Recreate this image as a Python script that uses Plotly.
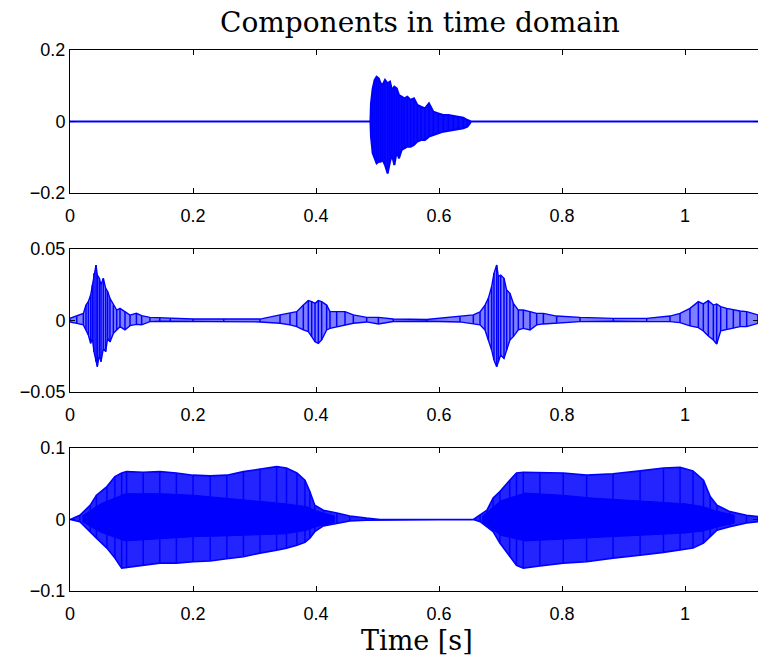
import plotly.graph_objects as go

# ---- Component 1: single decaying burst (upper / lower envelope per time point)
C1_T = [0.0, 0.4885, 0.4894, 0.4922, 0.4954, 0.4986, 0.5019, 0.5052, 0.5084, 0.5122, 0.5165,
        0.5203, 0.5236, 0.5274, 0.5312, 0.5350, 0.5393, 0.5436, 0.5485, 0.5539, 0.5593,
        0.5648, 0.5707, 0.5772, 0.5837, 0.5908, 0.5989, 0.6070, 0.6152, 0.6233, 0.6314,
        0.6396, 0.6461, 0.6504, 0.6520, 1.1187]
C1_HI = [0.0, 0.0, 0.0508, 0.0928, 0.1161, 0.1254, 0.1207, 0.1068, 0.1021, 0.1161, 0.1068,
         0.1114, 0.0881, 0.0974, 0.0928, 0.0741, 0.0695, 0.0648, 0.0695, 0.0601, 0.0648,
         0.0462, 0.0415, 0.0368, 0.0508, 0.0275, 0.0228, 0.0182, 0.0182, 0.0163, 0.0135,
         0.0107, 0.0042, 0.001, 0.0, 0.0]
C1_LO = [0.0, 0.0, -0.0424, -0.0890, -0.1030, -0.1170, -0.1124, -0.1124, -0.1077, -0.1217, -0.1450,
         -0.1124, -0.0937, -0.1217, -0.0844, -0.1030, -0.0797, -0.0751, -0.0704, -0.0704, -0.0657,
         -0.0564, -0.0517, -0.0517, -0.0424, -0.0378, -0.0331, -0.0284, -0.0266, -0.0238, -0.0210,
         -0.0191, -0.0145, -0.0051, 0.0, 0.0]

# ---- Component 2: four transient bursts
C2_T = [0.0, 0.011, 0.0217, 0.026, 0.0298, 0.0336, 0.0363, 0.039, 0.0423, 0.0444, 0.0477,
        0.0504, 0.0542, 0.058, 0.0612, 0.065, 0.0705, 0.0759, 0.0813, 0.0894, 0.0976, 0.108,
        0.1165, 0.130, 0.146, 0.163, 0.200, 0.250, 0.309, 0.3415, 0.3577, 0.3686, 0.3794,
        0.3875, 0.3930, 0.3984, 0.4038, 0.4092, 0.4173, 0.4228, 0.4336, 0.4472, 0.4607,
        0.4824, 0.5014, 0.5257, 0.5799, 0.6341, 0.6558, 0.6667, 0.6748, 0.6802, 0.6856,
        0.6894, 0.6938, 0.6965, 0.7003, 0.7057, 0.7100, 0.7154, 0.7209, 0.7290, 0.7371,
        0.7480, 0.7588, 0.7697, 0.7913, 0.8293, 0.8835, 0.9377, 0.9756, 0.9919, 1.0081,
        1.0217, 1.0298, 1.0379, 1.0461, 1.0515, 1.0580, 1.0678, 1.0786, 1.0894, 1.1003, 1.1187]
C2_HI = [0.0015, 0.003, 0.0050, 0.0108, 0.0132, 0.0178, 0.0248, 0.0330, 0.0388, 0.0318, 0.0295,
         0.0248, 0.0295, 0.0225, 0.0202, 0.0155, 0.0108, 0.0073, 0.0085, 0.0062, 0.0038, 0.0050,
         0.0034, 0.0022, 0.0020, 0.0015, 0.0010, 0.0010, 0.0010, 0.0039, 0.0050, 0.0062, 0.0108,
         0.0139, 0.0132, 0.0120, 0.0139, 0.0132, 0.0108, 0.0062, 0.0062, 0.0062, 0.0039,
         0.0022, 0.0022, 0.0010, 0.0007, 0.0027, 0.0039, 0.0060, 0.0108, 0.0155, 0.0237,
         0.0330, 0.0388, 0.0307, 0.0318, 0.0295, 0.0213, 0.0190, 0.0120, 0.0073, 0.0073,
         0.0062, 0.0050, 0.0050, 0.0031, 0.0022, 0.0015, 0.0015, 0.0031, 0.0050, 0.0085,
         0.0132, 0.0116, 0.0139, 0.0108, 0.0116, 0.0097, 0.0085, 0.0073, 0.0066, 0.0062, 0.0039]
C2_LO = [-0.001, -0.002, -0.0031, -0.0066, -0.0101, -0.0160, -0.0124, -0.0218, -0.0288, -0.0323, -0.0241,
         -0.0288, -0.0195, -0.0218, -0.0124, -0.0150, -0.0090, -0.0066, -0.0043, -0.0066, -0.0036, -0.0027,
         -0.0030, -0.0008, -0.0005, -0.0003, -0.0007, -0.0007, -0.0010, -0.0019, -0.0031, -0.0043, -0.0066,
         -0.0078, -0.0113, -0.0148, -0.0160, -0.0136, -0.0066, -0.0055, -0.0043, -0.0031, -0.0019,
         -0.0010, -0.0024, -0.0007, -0.0005, -0.0010, -0.0024, -0.0030, -0.0066, -0.0136, -0.0206,
         -0.0276, -0.0323, -0.0288, -0.0241, -0.0265, -0.0206, -0.0136, -0.0113, -0.0066, -0.0055,
         -0.0066, -0.0031, -0.0024, -0.0015, -0.0008, -0.0005, -0.0008, -0.0008, -0.0015, -0.0038,
         -0.0050, -0.0073, -0.0108, -0.0136, -0.0164, -0.0073, -0.0066, -0.0055, -0.0043, -0.0043, -0.0020]

# ---- Component 3: two sustained tonal segments (outer envelope)
C3_T = [0.0, 0.016, 0.033, 0.043, 0.060, 0.073, 0.084, 0.092, 0.119, 0.146, 0.173, 0.200,
        0.228, 0.255, 0.282, 0.309, 0.336, 0.352, 0.369, 0.382, 0.390, 0.398, 0.412, 0.434,
        0.455, 0.482, 0.504, 0.656, 0.667, 0.678, 0.688, 0.699, 0.715, 0.726, 0.737, 0.764,
        0.802, 0.840, 0.883, 0.927, 0.965, 0.992, 1.013, 1.030, 1.041, 1.052, 1.073, 1.100, 1.1187]
C3_HI = [0.0, 0.006, 0.020, 0.034, 0.046, 0.060, 0.065, 0.067, 0.066, 0.067, 0.065, 0.062,
         0.061, 0.062, 0.067, 0.071, 0.074, 0.072, 0.065, 0.055, 0.039, 0.020, 0.013, 0.009,
         0.005, 0.002, 0.0, 0.0, 0.006, 0.013, 0.030, 0.039, 0.055, 0.065, 0.066, 0.066,
         0.065, 0.062, 0.064, 0.068, 0.072, 0.073, 0.068, 0.055, 0.032, 0.020, 0.011, 0.006, 0.004]
C3_LO = [0.0, -0.003, -0.017, -0.026, -0.040, -0.054, -0.068, -0.068, -0.064, -0.061, -0.061, -0.059,
         -0.058, -0.055, -0.052, -0.047, -0.043, -0.040, -0.036, -0.032, -0.026, -0.017, -0.009, -0.005,
         -0.002, -0.001, 0.0, 0.0, -0.003, -0.010, -0.017, -0.033, -0.052, -0.064, -0.068, -0.065,
         -0.061, -0.059, -0.054, -0.050, -0.046, -0.043, -0.040, -0.033, -0.024, -0.015, -0.010, -0.005, -0.003]

# dense core of component 3, first and second segment
C3_CORE1_T = [0.02, 0.05, 0.09, 0.15, 0.20, 0.25, 0.30, 0.35, 0.385, 0.40, 0.43]
C3_CORE1_HI = [0.005, 0.022, 0.036, 0.036, 0.034, 0.030, 0.026, 0.022, 0.018, 0.012, 0.005]
C3_CORE1_LO = [-0.003, -0.018, -0.030, -0.027, -0.024, -0.023, -0.022, -0.020, -0.015, -0.010, -0.004]
C3_CORE2_T = [0.67, 0.70, 0.74, 0.80, 0.85, 0.90, 0.95, 1.00, 1.03, 1.05, 1.08]
C3_CORE2_HI = [0.004, 0.026, 0.037, 0.034, 0.030, 0.027, 0.024, 0.022, 0.018, 0.012, 0.006]
C3_CORE2_LO = [-0.003, -0.022, -0.030, -0.027, -0.025, -0.024, -0.021, -0.019, -0.016, -0.011, -0.005]

Y_TICKS = [
    ([-0.2, 0, 0.2], ["\u22120.2", "0", "0.2"], [-0.2, 0.2]),
    ([-0.05, 0, 0.05], ["\u22120.05", "0", "0.05"], [-0.05, 0.05]),
    ([-0.1, 0, 0.1], ["\u22120.1", "0", "0.1"], [-0.1, 0.1]),
]
X_TICKS = [0, 0.2, 0.4, 0.6, 0.8, 1]
X_TICK_TEXT = ["0", "0.2", "0.4", "0.6", "0.8", "1"]
X_RANGE = [0, 1.1187]

BLUE = "#0000ff"
W, H = 758, 657
PANEL_PX = [(50, 193), (249, 392), (448, 591)]


def band(t, hi, lo):
    return list(t) + list(t)[::-1], list(hi) + list(lo)[::-1]


def spikes(t, hi, lo):
    xs, ys = [], []
    for ti, h, l in zip(t, hi, lo):
        xs += [ti, ti, None]
        ys += [h, l, None]
    return xs, ys


fig = go.Figure()

components = [
    (C1_T, C1_HI, C1_LO, "rgba(0,0,255,0.95)", 2.0),
    (C2_T, C2_HI, C2_LO, "rgba(0,0,255,0.50)", 1.4),
    (C3_T, C3_HI, C3_LO, "rgba(0,0,255,0.86)", 1.6),
]

for i, (t, hi, lo, fc, lw) in enumerate(components, start=1):
    xa = "x" if i == 1 else f"x{i}"
    ya = "y" if i == 1 else f"y{i}"
    bx, by = band(t, hi, lo)
    fig.add_trace(go.Scatter(x=bx, y=by, mode="lines", fill="toself", fillcolor=fc,
                             line=dict(color=BLUE, width=lw), xaxis=xa, yaxis=ya,
                             hoverinfo="skip", showlegend=False))
    sx_, sy_ = spikes(t, hi, lo)
    fig.add_trace(go.Scatter(x=sx_, y=sy_, mode="lines", line=dict(color=BLUE, width=1.5),
                             connectgaps=False, xaxis=xa, yaxis=ya,
                             hoverinfo="skip", showlegend=False))

for ct, ch, cl in [(C3_CORE1_T, C3_CORE1_HI, C3_CORE1_LO), (C3_CORE2_T, C3_CORE2_HI, C3_CORE2_LO)]:
    bx, by = band(ct, ch, cl)
    fig.add_trace(go.Scatter(x=bx, y=by, mode="lines", fill="toself", fillcolor=BLUE,
                             line=dict(color=BLUE, width=1), xaxis="x3", yaxis="y3",
                             hoverinfo="skip", showlegend=False))

layout = dict(
    width=W, height=H, autosize=False,
    margin=dict(l=70, r=0, t=0, b=0, pad=0),
    paper_bgcolor="white", plot_bgcolor="white",
    font=dict(family="Liberation Sans, Arial, sans-serif", size=18, color="black"),
    showlegend=False,
)

for i, ((top, bot), (yt, ytt, yr)) in enumerate(zip(PANEL_PX, Y_TICKS), start=1):
    sx = "" if i == 1 else str(i)
    layout[f"xaxis{sx}"] = dict(
        domain=[0, 1], range=X_RANGE, anchor=f"y{sx}", tickvals=X_TICKS, ticktext=X_TICK_TEXT,
        ticks="inside", ticklen=5, tickcolor="black", showline=True, linecolor="black",
        linewidth=1, mirror="ticks", showgrid=False, zeroline=False, fixedrange=True,
        automargin=False, ticklabelstandoff=6, tickfont=dict(size=18),
    )
    layout[f"yaxis{sx}"] = dict(
        domain=[1 - bot / H, 1 - top / H], range=yr, anchor=f"x{sx}", tickvals=yt, ticktext=ytt,
        ticks="inside", ticklen=5, tickcolor="black", showline=True, linecolor="black",
        linewidth=1, mirror="ticks", showgrid=False, zeroline=False, fixedrange=True,
        automargin=False, tickfont=dict(size=18),
    )

layout["annotations"] = [
    dict(text="Components in time domain", xref="paper", yref="paper",
         x=(419.5 - 70) / 688, y=1 - 22 / H, showarrow=False, xanchor="center", yanchor="middle",
         font=dict(family="DejaVu Serif, serif", size=28, color="black")),
    dict(text="Time [s]", xref="paper", yref="paper",
         x=(417.5 - 70) / 688, y=1 - 640 / H, showarrow=False, xanchor="center", yanchor="middle",
         font=dict(family="DejaVu Serif, serif", size=27, color="black")),
]

fig.update_layout(**layout)
fig.write_html("out.html")
